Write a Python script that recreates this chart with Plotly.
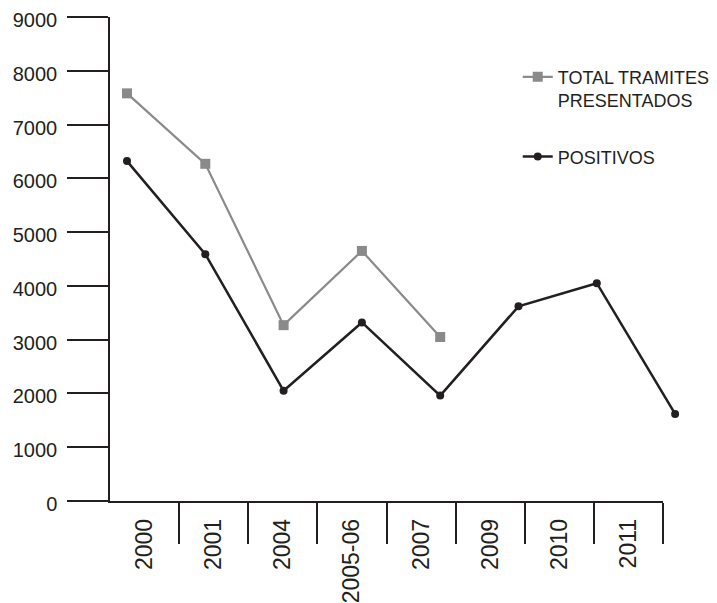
import plotly.graph_objects as go

# ---- data ----
categories = ["2000", "2001", "2004", "2005-06", "2007", "2009", "2010", "2011"]
total_tramites = [7580, 6270, 3270, 4650, 3050]
positivos = [6320, 4590, 2050, 3320, 1960, 3620, 4050, 1620]
y_ticks = [0, 1000, 2000, 3000, 4000, 5000, 6000, 7000, 8000, 9000]

# ---- style ----
# the page body adds an 8px offset, so the figure is sized to fit the window
W, H = 709, 595
ML, MR, MT, MB = 102, 27, 9, 102
DARK = "#231f20"
GRAY = "#8a8a8a"
FONT = "Liberation Sans, Arial, sans-serif"

plot_w = W - ML - MR
axis_w = 553
frac = axis_w / plot_w
px_per_cat = 78.3
first_px = 17.0
x2_lo = -first_px / px_per_cat
x2_hi = x2_lo + plot_w / px_per_cat

fig = go.Figure()
# empty trace so the visible axis subplot (x/y) is created
fig.add_trace(go.Scatter(x=[], y=[], xaxis="x", yaxis="y", showlegend=False,
                         hoverinfo="skip"))
fig.add_trace(go.Scatter(
    x=categories[:len(total_tramites)], y=total_tramites,
    name="TOTAL TRAMITES<br>PRESENTADOS", mode="lines+markers",
    line=dict(color=GRAY, width=2.2),
    marker=dict(symbol="square", size=10, color=GRAY),
    xaxis="x2", yaxis="y2", legendgroup="a", cliponaxis=False,
))
fig.add_trace(go.Scatter(
    x=categories, y=positivos,
    name="POSITIVOS", mode="lines+markers",
    line=dict(color=DARK, width=2.5),
    marker=dict(symbol="circle", size=8, color=DARK),
    xaxis="x2", yaxis="y2", legendgroup="b", cliponaxis=False,
))

fig.update_layout(
    width=W, height=H,
    margin=dict(l=ML, r=MR, t=MT, b=MB, autoexpand=False),
    paper_bgcolor="white", plot_bgcolor="rgba(0,0,0,0)",
    font=dict(family=FONT, color=DARK),
    showlegend=True,
    legend=dict(
        x=0.703, y=0.914, xanchor="left", yanchor="top",
        valign="top", font=dict(size=18, color=DARK),
        tracegroupgap=30, bgcolor="rgba(0,0,0,0)",
    ),
    xaxis=dict(
        type="linear", domain=[0, frac], range=[-0.5, len(categories) - 0.5],
        anchor="y", automargin=False,
        tickmode="array", tickvals=list(range(len(categories))), ticktext=categories,
        tickangle=-90, ticks="", ticklabelstandoff=7,
        tickfont=dict(size=23, color=DARK),
        showline=True, linecolor=DARK, linewidth=1.5,
        showgrid=False, zeroline=False,
        minor=dict(tickmode="array", tickvals=[i + 0.5 for i in range(len(categories))],
                   ticks="outside", ticklen=41, tickwidth=1.5, tickcolor=DARK,
                   showgrid=False),
    ),
    yaxis=dict(
        domain=[0, 1], range=[0, 9000], anchor="x", automargin=False,
        tickmode="array", tickvals=y_ticks, ticklabeloverflow="allow",
        ticks="outside", ticklen=41, tickwidth=1.5, tickcolor=DARK,
        ticklabelstandoff=6, ticklabelshift=3, tickfont=dict(size=20, color=DARK),
        showline=True, linecolor=DARK, linewidth=1.5,
        showgrid=False, zeroline=False,
    ),
    xaxis2=dict(
        type="category", categoryorder="array", categoryarray=categories,
        domain=[0, 1], range=[x2_lo, x2_hi], anchor="y2", visible=False,
    ),
    yaxis2=dict(
        domain=[0, 1], range=[0, 9000], anchor="x2", visible=False,
    ),
)

fig.write_html("out.html")
